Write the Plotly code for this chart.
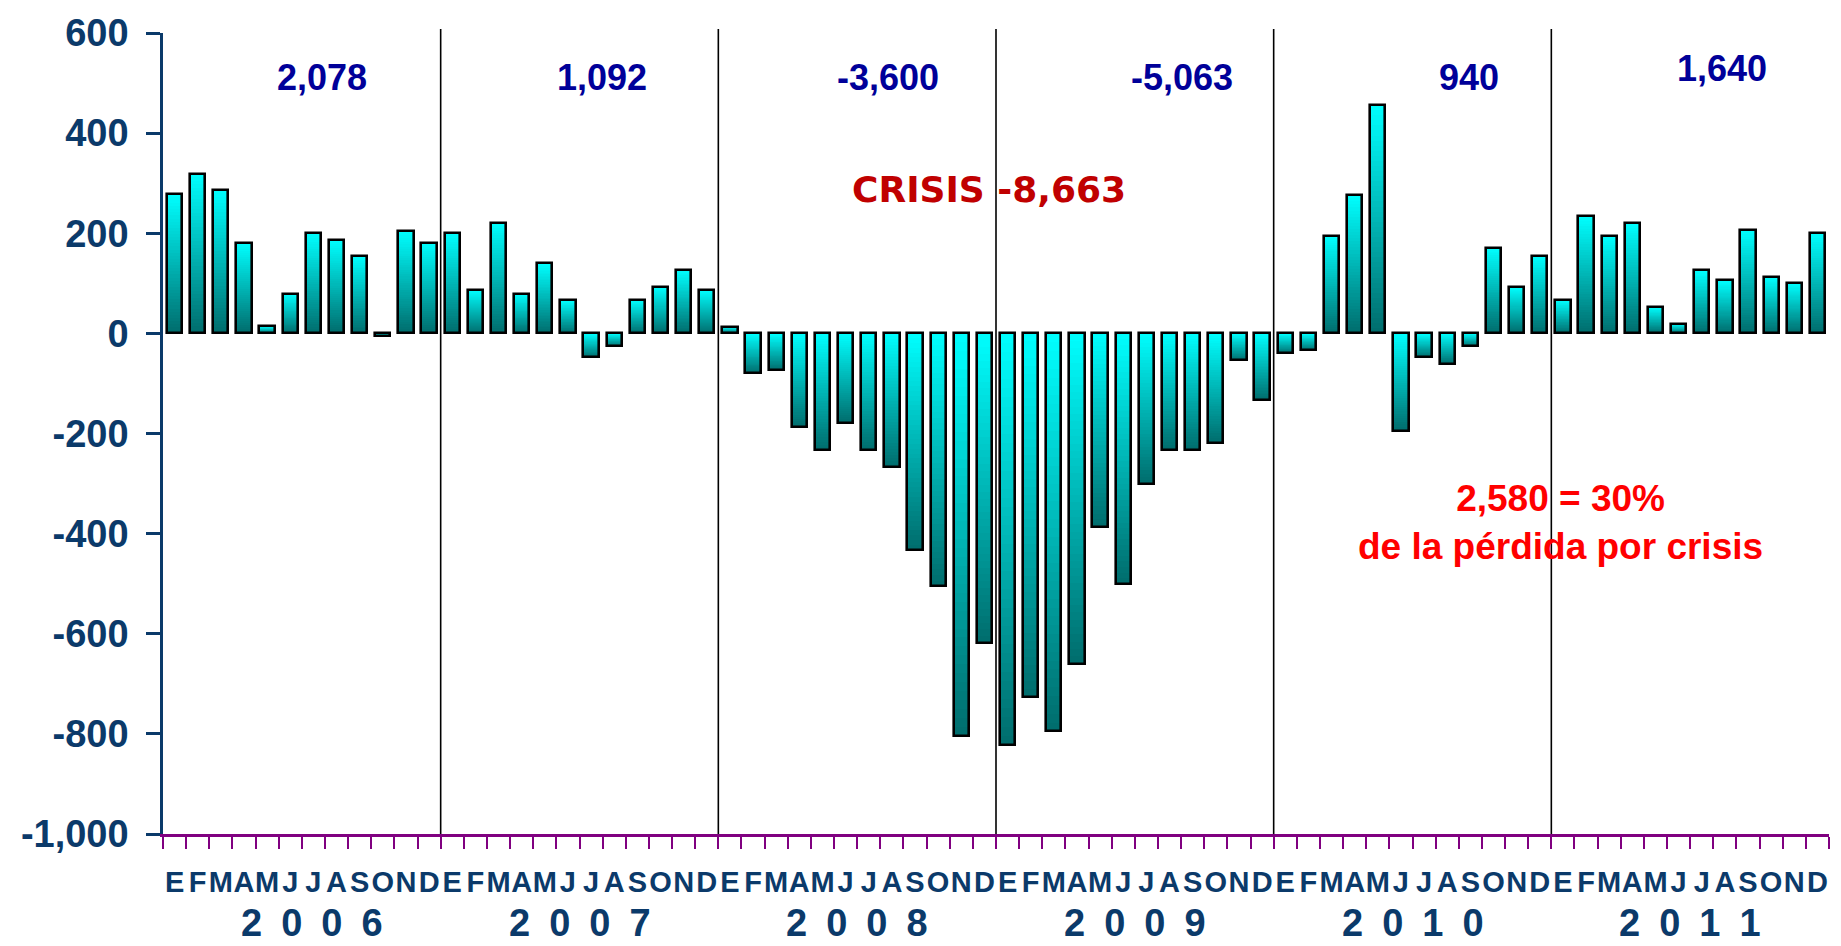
import numpy as np
import plotly.graph_objects as go

# ---------------- data ----------------
years = ["2006", "2007", "2008", "2009", "2010", "2011"]
months = ["E", "F", "M", "A", "M", "J", "J", "A", "S", "O", "N", "D"]
empleo_2006 = [279, 319, 286, 180, 14, 79, 200, 187, 154, -5, 205, 180]
empleo_2007 = [200, 87, 220, 79, 140, 66, -48, -26, 67, 93, 127, 87]
empleo_2008 = [13, -80, -74, -187, -233, -180, -233, -266, -432, -505, -804, -619]
empleo_2009 = [-822, -727, -795, -660, -387, -500, -300, -233, -233, -219, -54, -133]
empleo_2010 = [-40, -34, 194, 276, 456, -195, -48, -61, -26, 171, 93, 154]
empleo_2011 = [66, 235, 194, 220, 53, 19, 126, 106, 207, 113, 101, 200]
year_totals = ["2,078", "1,092", "-3,600", "-5,063", "940", "1,640"]
y_tick_vals = [-1000, -800, -600, -400, -200, 0, 200, 400, 600]
y_tick_text = ["-1,000", "-800", "-600", "-400", "-200", "0", "200", "400", "600"]
crisis_label = "CRISIS -8,663"
recovery_label = "2,580 = 30%<br>de la pérdida por crisis"

# ---------------- build ----------------
values = np.array(empleo_2006 + empleo_2007 + empleo_2008 + empleo_2009
                  + empleo_2010 + empleo_2011, dtype=float)
n = len(values)
x = np.arange(n)
ticktext = months * len(years)

NAVY = "#0B3A6A"
BAR_W = 0.66
TOP = np.array([0, 255, 255])
BOT = np.array([0, 108, 108])

fig = go.Figure()

# gradient fill: overlay of progressively shorter bars
N = 45
for k in range(N):
    f = 1.0 - k / N
    m = f - 0.5 / N
    cols = []
    for v in values:
        t = m if v >= 0 else 1 - m
        c = BOT + (TOP - BOT) * t
        cols.append("rgb(%d,%d,%d)" % tuple(np.round(c).astype(int)))
    fig.add_trace(go.Bar(
        x=x, y=values * f, width=BAR_W,
        marker=dict(color=cols, line=dict(width=0)),
        showlegend=False, hoverinfo="skip",
    ))

# outline
fig.add_trace(go.Bar(
    x=x, y=values, width=BAR_W,
    marker=dict(color="rgba(0,0,0,0)", line=dict(color="black", width=2.6)),
    showlegend=False,
    hovertemplate="%{y}<extra></extra>",
))

# year dividers
for k in range(1, len(years)):
    fig.add_shape(type="line", xref="x", yref="paper",
                  x0=12 * k - 0.5, x1=12 * k - 0.5, y0=0, y1=1.005,
                  line=dict(color="black", width=1.6), layer="below")

AR = "Liberation Sans, Arial, sans-serif"
annotations = []
# year totals
tot_x = [6.38, 18.48, 30.83, 43.55, 55.95, 66.86]
tot_y = [512, 512, 512, 512, 512, 529]
for xs, ys, t in zip(tot_x, tot_y, year_totals):
    annotations.append(dict(x=xs, y=ys, xref="x", yref="y", text=t, showarrow=False,
                            font=dict(family=AR, size=36, color="#000099", weight="bold")))
# crisis label
annotations.append(dict(x=35.2, y=287, xref="x", yref="y", text=crisis_label,
                        showarrow=False,
                        font=dict(family="DejaVu Sans, Verdana, sans-serif", size=36,
                                  color="#C00000", weight="bold")))
# recovery label
annotations.append(dict(x=59.9, y=-377, xref="x", yref="y", text=recovery_label,
                        showarrow=False,
                        font=dict(family=AR, size=37, color="#FF0000", weight="bold")))
# year labels
year_x = [5.95, 17.5, 29.5, 41.5, 53.5, 65.5]
for xs, yr in zip(year_x, years):
    annotations.append(dict(x=xs, y=0, xref="x", yref="paper",
                            yanchor="middle", yshift=-89,
                            text="\u2002".join(list(yr)), showarrow=False,
                            font=dict(family=AR, size=38, color=NAVY, weight="bold")))

fig.update_layout(
    width=1841, height=946,
    margin=dict(l=163, r=12, t=28, b=112),
    paper_bgcolor="white", plot_bgcolor="white",
    barmode="overlay", bargap=0,
    showlegend=False,
    annotations=annotations,
    xaxis=dict(
        range=[-0.5, n - 0.5], tickmode="array", tickvals=list(x), ticktext=ticktext,
        tickangle=0,
        ticks="", showgrid=False, zeroline=False,
        showline=True, linecolor="#800080", linewidth=3,
        tickfont=dict(family=AR, size=29, color=NAVY, weight="bold"),
        ticklabelstandoff=20,
        minor=dict(tickmode="linear", tick0=-0.5, dtick=1, ticks="outside",
                   ticklen=12, tickwidth=2, tickcolor="#800080", showgrid=False),
    ),
    yaxis=dict(
        range=[-1000, 600], tickmode="array", tickvals=y_tick_vals, ticktext=y_tick_text,
        ticks="outside", ticklen=14, tickwidth=2.5, tickcolor=NAVY,
        showline=True, linecolor=NAVY, linewidth=2.5,
        showgrid=False, zeroline=False,
        tickfont=dict(family=AR, size=38, color=NAVY, weight="bold"),
        ticklabelstandoff=10,
    ),
)

fig.write_html("out.html", config={"displayModeBar": False},
               post_script="document.body.style.margin='0px';document.body.style.overflow='hidden';")
